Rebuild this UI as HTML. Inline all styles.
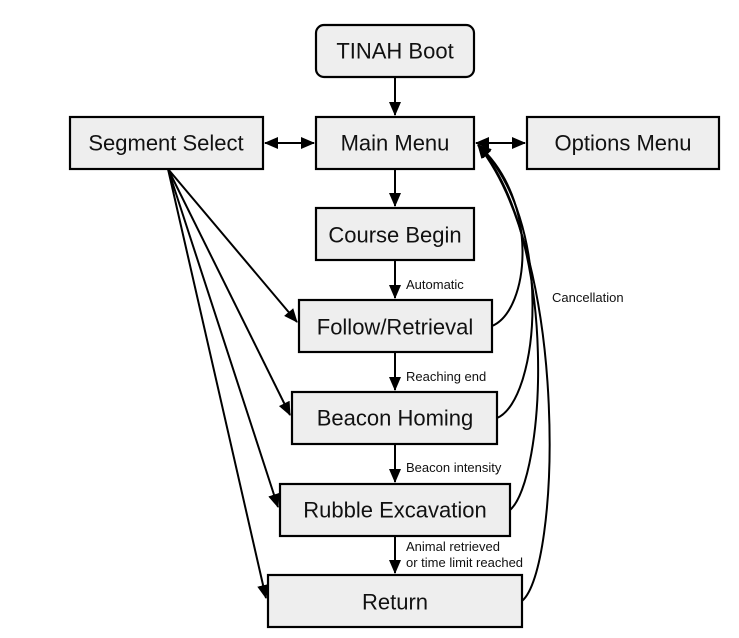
<!DOCTYPE html>
<html><head><style>
body{margin:0;background:#fff;}
svg{display:block;font-family:"Liberation Sans",Arial,sans-serif;}
.b{fill:#eeeeee;stroke:#000;stroke-width:2.2;}
.t{font-size:22px;text-anchor:middle;dominant-baseline:central;fill:#111;}
.s{font-size:13px;fill:#111;}
.l{stroke:#000;stroke-width:2;fill:none;}
</style></head><body>
<svg width="739" height="638" viewBox="0 0 739 638">
<defs><marker id="a" markerWidth="14" markerHeight="12" refX="13" refY="6" orient="auto" markerUnits="userSpaceOnUse"><path d="M0,0 L14,6 L0,12 z" fill="#000"/></marker>
<marker id="r" markerWidth="14" markerHeight="12" refX="1" refY="6" orient="auto" markerUnits="userSpaceOnUse"><path d="M14,0 L0,6 L14,12 z" fill="#000"/></marker></defs>
<rect class="b" x="316" y="25" width="158" height="52" rx="8"/><text class="t" x="395" y="51">TINAH Boot</text>
<rect class="b" x="70" y="117" width="193" height="52"/><text class="t" x="166" y="143">Segment Select</text>
<rect class="b" x="316" y="117" width="158" height="52"/><text class="t" x="395" y="143">Main Menu</text>
<rect class="b" x="527" y="117" width="192" height="52"/><text class="t" x="623" y="143">Options Menu</text>
<rect class="b" x="316" y="208" width="158" height="52"/><text class="t" x="395" y="235">Course Begin</text>
<rect class="b" x="299" y="300" width="193" height="52"/><text class="t" x="395" y="327">Follow/Retrieval</text>
<rect class="b" x="292" y="392" width="205" height="52"/><text class="t" x="395" y="418">Beacon Homing</text>
<rect class="b" x="280" y="484" width="230" height="52"/><text class="t" x="395" y="510">Rubble Excavation</text>
<rect class="b" x="268" y="575" width="254" height="52"/><text class="t" x="395" y="602">Return</text>
<path class="l" d="M395 77 V115" marker-end="url(#a)"/>
<path class="l" d="M265 143 H314" marker-start="url(#r)" marker-end="url(#a)"/>
<path class="l" d="M476 143 H525" marker-start="url(#r)" marker-end="url(#a)"/>
<path class="l" d="M395 169 V206" marker-end="url(#a)"/>
<path class="l" d="M395 260 V298" marker-end="url(#a)"/>
<path class="l" d="M395 352 V390" marker-end="url(#a)"/>
<path class="l" d="M395 444 V482" marker-end="url(#a)"/>
<path class="l" d="M395 536 V573" marker-end="url(#a)"/>
<text class="s" x="406" y="289">Automatic</text>
<text class="s" x="406" y="381">Reaching end</text>
<text class="s" x="406" y="472">Beacon intensity</text>
<text class="s" x="406" y="551">Animal retrieved</text>
<text class="s" x="406" y="567">or time limit reached</text>
<text class="s" x="552" y="302">Cancellation</text>
<path class="l" d="M168 169 L297 322" marker-end="url(#a)"/>
<path class="l" d="M168 169 L290 415" marker-end="url(#a)"/>
<path class="l" d="M168 169 L278 507" marker-end="url(#a)"/>
<path class="l" d="M168 169 L266 598" marker-end="url(#a)"/>
<path class="l" d="M492 326 C530 310 540 200 478 145" marker-end="url(#a)"/>
<path class="l" d="M497 418 C540 400 555 220 478 145" marker-end="url(#a)"/>
<path class="l" d="M510 510 C545 480 560 240 478 145" marker-end="url(#a)"/>
<path class="l" d="M522 601 C560 570 570 260 478 145" marker-end="url(#a)"/>
</svg>
</body></html>
